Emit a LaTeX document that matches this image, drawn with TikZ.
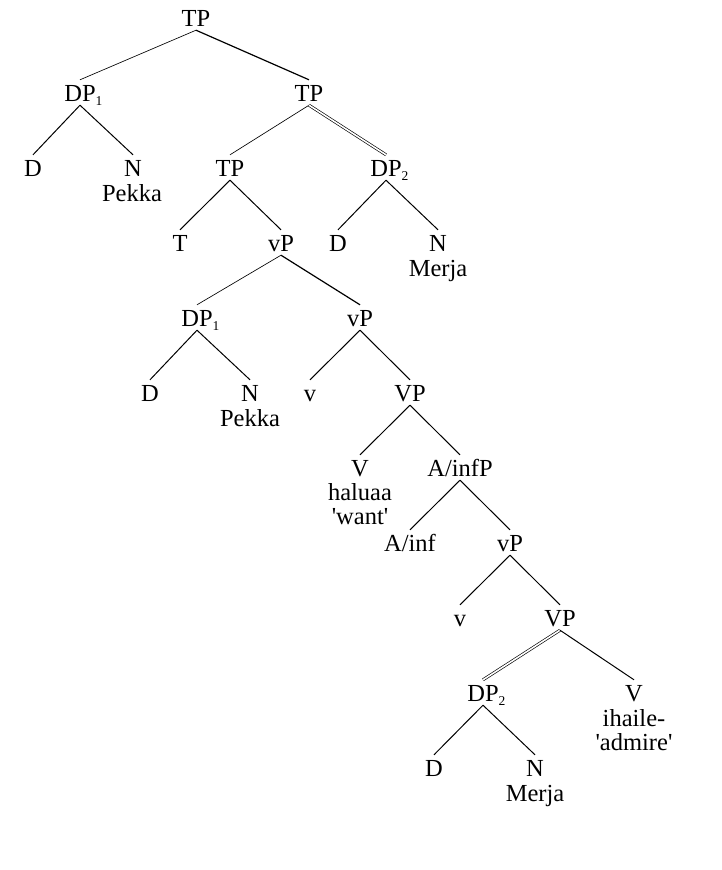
\documentclass[tikz,border=0pt]{standalone}
\usepackage{fontspec}
\setmainfont{Liberation Serif}
\newcommand\idx[1]{\rlap{\raisebox{-4.5pt}{\fontsize{13.5}{13.5}\selectfont #1}}}
\begin{document}
\begin{tikzpicture}[x=1pt,y=-1pt,
  lab/.style={anchor=base, inner xsep=1pt, inner ysep=4pt, text height=17pt,
              text depth=0pt, font=\fontsize{24.5}{25}\selectfont},
  word/.style={anchor=base, inner sep=0pt, font=\fontsize{24.5}{25}\selectfont},
  br/.style={line width=1pt},
  thinbr/.style={line width=0.65pt},
  dbl/.style={double, double distance=1.6pt, line width=0.65pt}]
\useasboundingbox (0,0) rectangle (722,870);

% category labels (positioned by baseline)
\node[lab] (TP0)   at (196,26)  {TP};
\node[lab] (DP1a)  at (80,101)  {DP\idx{1}};
\node[lab] (TP1)   at (309,101) {TP};
\node[lab] (Da)    at (33,176)  {D};
\node[lab] (Na)    at (133,176) {N};
\node[lab] (TP2)   at (230,176) {TP};
\node[lab] (DP2a)  at (386,176) {DP\idx{2}};
\node[lab] (T)     at (180,251) {T};
\node[lab] (vP1)   at (281,251) {vP};
\node[lab] (Db)    at (338,251) {D};
\node[lab] (Nb)    at (438,251) {N};
\node[lab] (DP1b)  at (197,326) {DP\idx{1}};
\node[lab] (vP2)   at (360,326) {vP};
\node[lab] (Dc)    at (150,401) {D};
\node[lab] (Nc)    at (250,401) {N};
\node[lab] (v1)    at (310,401) {v};
\node[lab] (VP1)   at (410,401) {VP};
\node[lab] (V1)    at (360,476) {V};
\node[lab] (AinfP) at (460,476) {A/infP};
\node[lab] (Ainf)  at (410,551) {A/inf};
\node[lab] (vP3)   at (510,551) {vP};
\node[lab] (v2)    at (460,626) {v};
\node[lab] (VP2)   at (560,626) {VP};
\node[lab] (DP2b)  at (483,701) {DP\idx{2}};
\node[lab] (V2)    at (634,701) {V};
\node[lab] (Dd)    at (434,776) {D};
\node[lab] (Nd)    at (535,776) {N};

% lexical material under the heads
\node[word] (wPekkaA) at (132,201) {Pekka};
\node[word] (wMerjaA) at (438,276) {Merja};
\node[word] (wPekkaB) at (250,426) {Pekka};
\node[word] (wHaluaa) at (360,500) {haluaa};
\node[word] (wWant)   at (360,524) {\textquotesingle want\textquotesingle};
\node[word] (wIhaile) at (634,726) {ihaile-};
\node[word] (wAdmire) at (634,750) {\textquotesingle admire\textquotesingle};
\node[word] (wMerjaB) at (535,801) {Merja};

% branches
\draw[thinbr] (TP0.south) -- (DP1a.north);
\draw[br, line width=1.2pt] (TP0.south) -- (TP1.north);
\draw[br] (DP1a.south) -- (Da.north);
\draw[br] (DP1a.south) -- (Na.north);
\draw[thinbr] (TP1.south) -- (TP2.north);
\draw[dbl] (TP1.south) -- (DP2a.north);
\draw[br] (TP2.south) -- (T.north);
\draw[br] (TP2.south) -- (vP1.north);
\draw[br] (DP2a.south) -- (Db.north);
\draw[br] (DP2a.south) -- (Nb.north);
\draw[thinbr] (vP1.south) -- (DP1b.north);
\draw[br, line width=1.2pt] (vP1.south) -- (vP2.north);
\draw[br] (DP1b.south) -- (Dc.north);
\draw[br] (DP1b.south) -- (Nc.north);
\draw[br] (vP2.south) -- (v1.north);
\draw[br] (vP2.south) -- (VP1.north);
\draw[br] (VP1.south) -- (V1.north);
\draw[br] (VP1.south) -- (AinfP.north);
\draw[br] (AinfP.south) -- (Ainf.north);
\draw[br] (AinfP.south) -- (vP3.north);
\draw[br] (vP3.south) -- (v2.north);
\draw[br] (vP3.south) -- (VP2.north);
\draw[dbl] (VP2.south) -- (DP2b.north);
\draw[br] (VP2.south) -- (V2.north);
\draw[br] (DP2b.south) -- (Dd.north);
\draw[br] (DP2b.south) -- (Nd.north);
\end{tikzpicture}
\end{document}
